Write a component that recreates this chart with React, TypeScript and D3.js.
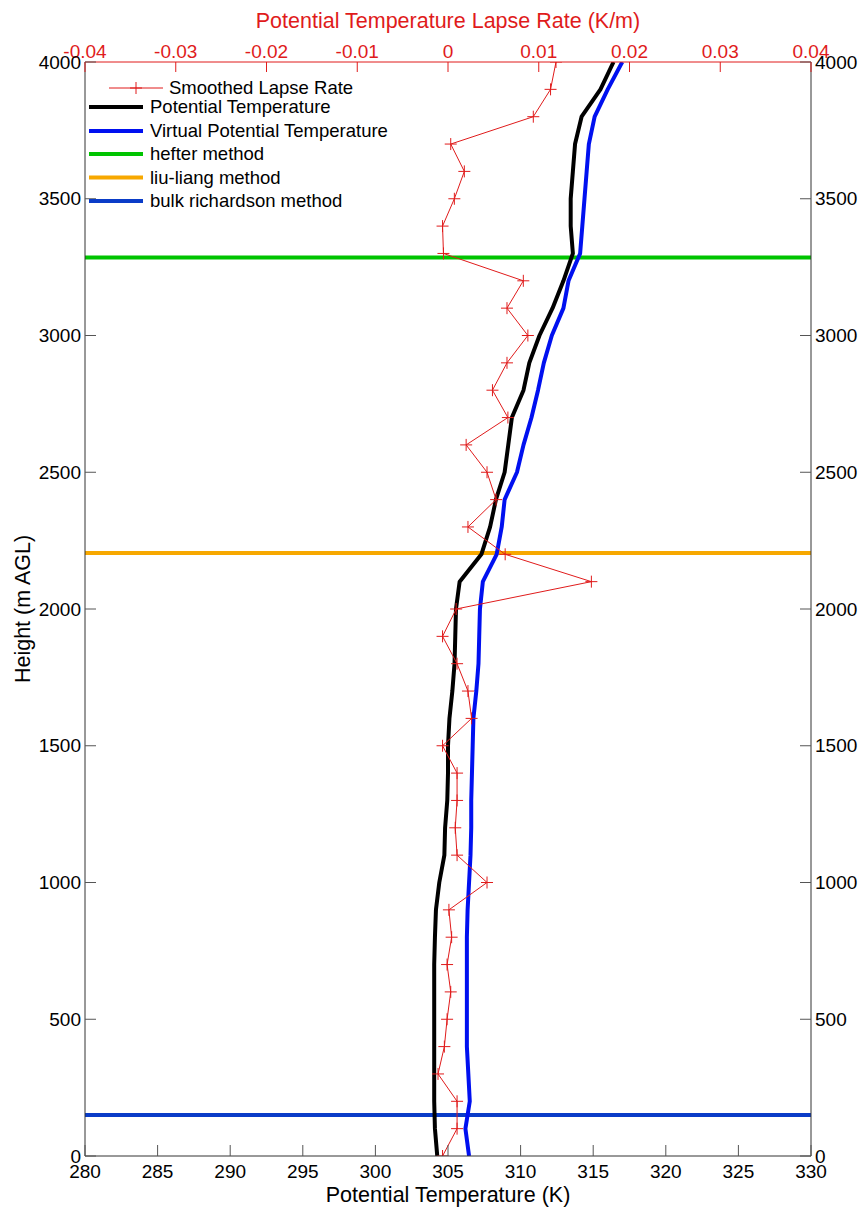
import React, {useEffect, useRef} from 'react';
import * as d3 from 'd3';

// sounding levels (m AGL)
const heights = [
    0, 100, 200, 300, 400, 500, 600, 700, 800, 900,
    1000, 1100, 1200, 1300, 1400, 1500, 1600, 1700, 1800, 1900,
    2000, 2100, 2200, 2300, 2400, 2500, 2600, 2700, 2800, 2900,
    3000, 3100, 3200, 3300, 3400, 3500, 3600, 3700, 3800, 3900, 4000
];

// smoothed lapse rate (K/m)
const lapseRate = [
    -0.0006, 0.0010, 0.0010, -0.0011, -0.0004, -0.0001, 0.0003, -0.0001, 0.0004, 0.0001,
    0.0043, 0.0010, 0.0008, 0.0010, 0.0010, -0.0006, 0.0026, 0.0022, 0.0010, -0.0006,
    0.0009, 0.0158, 0.0063, 0.0022, 0.0053, 0.0043, 0.0020, 0.0066, 0.0049, 0.0065,
    0.0088, 0.0065, 0.0083, -0.0005, -0.0006, 0.0007, 0.0018, 0.0003, 0.0094, 0.0113, 0.0119
];

// potential temperature (K)
const theta = [
    304.26, 304.1, 304.05, 304.05, 304.05, 304.05, 304.05, 304.05, 304.1, 304.17,
    304.4, 304.75, 304.8, 304.95, 305.0, 305.0, 305.1, 305.3, 305.45, 305.5,
    305.55, 305.8, 307.3, 307.9, 308.3, 308.9, 309.15, 309.4, 310.2, 310.6,
    311.3, 312.2, 312.95, 313.6, 313.45, 313.45, 313.6, 313.75, 314.2, 315.5, 316.4
];

// virtual potential temperature (K)
const thetaV = [
    306.45, 306.2, 306.5, 306.4, 306.3, 306.3, 306.3, 306.3, 306.3, 306.35,
    306.45, 306.55, 306.6, 306.6, 306.65, 306.7, 306.75, 306.95, 307.1, 307.15,
    307.2, 307.4, 308.35, 308.7, 308.9, 309.75, 310.2, 310.75, 311.2, 311.6,
    312.15, 312.95, 313.3, 314.1, 314.25, 314.4, 314.55, 314.7, 315.1, 316.0, 317.0
];

// boundary layer heights by method (m)
const methodNames = ['hefter method', 'liu-liang method', 'bulk richardson method'];
const methodHeights = [3285, 2205, 150];
const methodColors = ['#00c400', '#f7a800', '#0a3cc8'];

const tempTicks = [280, 285, 290, 295, 300, 305, 310, 315, 320, 325, 330];
const lapseTicks = ['-0.04', '-0.03', '-0.02', '-0.01', '0', '0.01', '0.02', '0.03', '0.04'];
const heightTicks = [0, 500, 1000, 1500, 2000, 2500, 3000, 3500, 4000];

const RED = '#e01b1b';
const AXIS = '#333';
const FONT = '"Liberation Sans", Arial, Helvetica, sans-serif';
const TICK_SIZE = 19;
const TITLE_SIZE = 21.5;
const LEGEND_SIZE = 18.5;

export default function App() {
    const ref = useRef(null);

    useEffect(() => {
        const width = 862, height = 1207;
        const m = {left: 85, right: 51, top: 62, bottom: 51};

        const svg = d3.select(ref.current)
            .append('svg')
            .attr('width', width)
            .attr('height', height)
            .style('position', 'absolute')
            .style('left', 0)
            .style('top', 0)
            .style('background', '#fff')
            .style('font-family', FONT);

        const x = d3.scaleLinear().domain([280, 330]).range([m.left, width - m.right]);
        const xTop = d3.scaleLinear().domain([-0.04, 0.04]).range([m.left, width - m.right]);
        const y = d3.scaleLinear().domain([0, 4000]).range([height - m.bottom, m.top]);

        svg.append('defs').append('clipPath').attr('id', 'plot-clip')
            .append('rect')
            .attr('x', m.left).attr('y', m.top)
            .attr('width', width - m.left - m.right)
            .attr('height', height - m.top - m.bottom);

        const plot = svg.append('g').attr('clip-path', 'url(#plot-clip)');

        // method lines
        methodHeights.forEach((h, i) => {
            plot.append('line')
                .attr('x1', m.left).attr('x2', width - m.right)
                .attr('y1', y(h)).attr('y2', y(h))
                .attr('stroke', methodColors[i])
                .attr('stroke-width', 4);
        });

        const tempLine = (vals) => d3.line()
            .x((d, i) => x(vals[i]))
            .y((d) => y(d))(heights);

        plot.append('path')
            .attr('d', tempLine(theta))
            .attr('fill', 'none')
            .attr('stroke', '#000')
            .attr('stroke-width', 4)
            .attr('stroke-linejoin', 'round');

        plot.append('path')
            .attr('d', tempLine(thetaV))
            .attr('fill', 'none')
            .attr('stroke', '#0010f0')
            .attr('stroke-width', 4)
            .attr('stroke-linejoin', 'round');

        // lapse rate on the top axis
        const lapseLine = d3.line()
            .x((d, i) => xTop(lapseRate[i]))
            .y((d) => y(d));

        plot.append('path')
            .attr('d', lapseLine(heights))
            .attr('fill', 'none')
            .attr('stroke', RED)
            .attr('stroke-width', 1);

        plot.selectAll('.marker')
            .data(heights)
            .enter()
            .append('path')
            .attr('class', 'marker')
            .attr('d', (d, i) => {
                const cx = xTop(lapseRate[i]), cy = y(d), r = 6;
                return `M${cx - r},${cy}H${cx + r}M${cx},${cy - r}V${cy + r}`;
            })
            .attr('stroke', RED)
            .attr('stroke-width', 1);

        // frame
        const x0 = m.left, x1 = width - m.right, y0 = m.top, y1 = height - m.bottom;
        svg.append('line').attr('x1', x0).attr('x2', x0).attr('y1', y0).attr('y2', y1)
            .attr('stroke', AXIS).attr('stroke-width', 1);
        svg.append('line').attr('x1', x1).attr('x2', x1).attr('y1', y0).attr('y2', y1)
            .attr('stroke', AXIS).attr('stroke-width', 1);
        svg.append('line').attr('x1', x0).attr('x2', x1).attr('y1', y1).attr('y2', y1)
            .attr('stroke', AXIS).attr('stroke-width', 1);
        svg.append('line').attr('x1', x0).attr('x2', x1).attr('y1', y0).attr('y2', y0)
            .attr('stroke', RED).attr('stroke-width', 1);

        // bottom ticks
        tempTicks.forEach((t) => {
            svg.append('line').attr('x1', x(t)).attr('x2', x(t))
                .attr('y1', y1).attr('y2', y1 - 11)
                .attr('stroke', '#555');
            svg.append('text').attr('x', x(t)).attr('y', y1 + 22)
                .attr('text-anchor', 'middle')
                .attr('font-size', TICK_SIZE)
                .attr('fill', '#000')
                .text(t);
        });

        // top ticks
        lapseTicks.forEach((t) => {
            svg.append('line').attr('x1', xTop(+t)).attr('x2', xTop(+t))
                .attr('y1', y0).attr('y2', y0 + 10)
                .attr('stroke', RED);
            svg.append('text').attr('x', xTop(+t)).attr('y', y0 - 4)
                .attr('text-anchor', 'middle')
                .attr('font-size', TICK_SIZE)
                .attr('fill', RED)
                .text(t);
        });

        // left and right ticks
        heightTicks.forEach((t) => {
            svg.append('line').attr('x1', x0).attr('x2', x0 + 11)
                .attr('y1', y(t)).attr('y2', y(t))
                .attr('stroke', '#555');
            svg.append('line').attr('x1', x1).attr('x2', x1 - 11)
                .attr('y1', y(t)).attr('y2', y(t))
                .attr('stroke', '#555');
            svg.append('text').attr('x', x0 - 4).attr('y', y(t))
                .attr('dy', '0.35em')
                .attr('text-anchor', 'end')
                .attr('font-size', TICK_SIZE)
                .attr('fill', '#000')
                .text(t);
            svg.append('text').attr('x', x1 + 4).attr('y', y(t))
                .attr('dy', '0.35em')
                .attr('text-anchor', 'start')
                .attr('font-size', TICK_SIZE)
                .attr('fill', '#000')
                .text(t);
        });

        // axis titles
        svg.append('text')
            .attr('x', (x0 + x1) / 2).attr('y', 1202)
            .attr('text-anchor', 'middle')
            .attr('font-size', TITLE_SIZE)
            .text('Potential Temperature (K)');

        svg.append('text')
            .attr('x', (x0 + x1) / 2).attr('y', 28)
            .attr('text-anchor', 'middle')
            .attr('font-size', TITLE_SIZE)
            .attr('fill', RED)
            .text('Potential Temperature Lapse Rate (K/m)');

        svg.append('text')
            .attr('transform', `translate(30, ${(y0 + y1) / 2}) rotate(-90)`)
            .attr('text-anchor', 'middle')
            .attr('font-size', TITLE_SIZE)
            .text('Height (m AGL)');

        // legend
        const legend = svg.append('g');
        legend.append('line').attr('x1', 109).attr('x2', 163).attr('y1', 88).attr('y2', 88)
            .attr('stroke', RED).attr('stroke-width', 1);
        legend.append('path').attr('d', 'M130,88H142M136,82V94').attr('stroke', RED);
        legend.append('text').attr('x', 169).attr('y', 88).attr('dy', '0.35em')
            .attr('font-size', LEGEND_SIZE).text('Smoothed Lapse Rate');

        const rows = [
            {name: 'Potential Temperature', color: '#000', y: 107},
            {name: 'Virtual Potential Temperature', color: '#0010f0', y: 131},
            ...methodNames.map((n, i) => ({name: n, color: methodColors[i], y: 154 + i * 23.5}))
        ];
        rows.forEach((r) => {
            legend.append('line').attr('x1', 89).attr('x2', 143).attr('y1', r.y).attr('y2', r.y)
                .attr('stroke', r.color).attr('stroke-width', 4);
            legend.append('text').attr('x', 150).attr('y', r.y).attr('dy', '0.35em')
                .attr('font-size', LEGEND_SIZE).text(r.name);
        });

        return () => {
            d3.select(ref.current).selectAll('*').remove();
        };
    }, []);

    return <div ref={ref}/>;
}
